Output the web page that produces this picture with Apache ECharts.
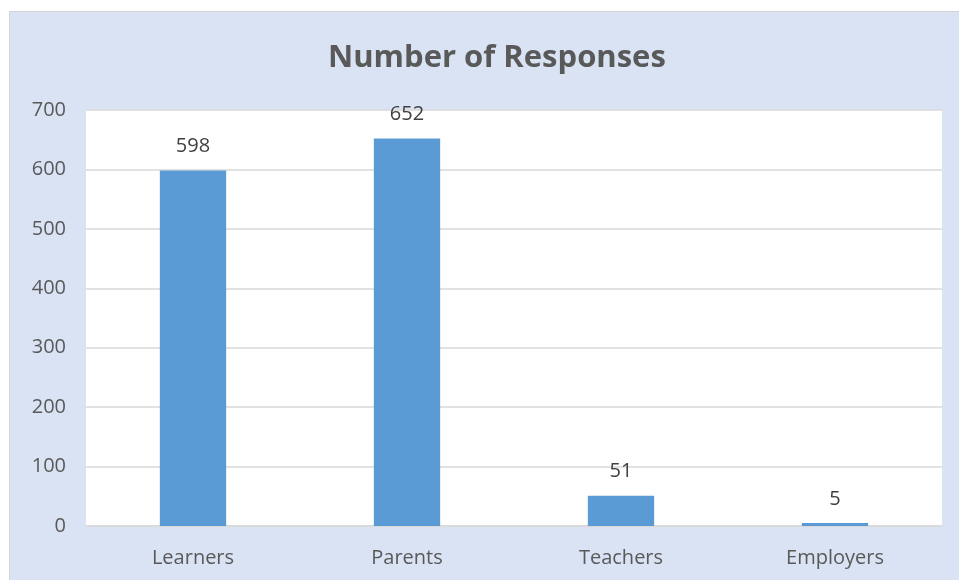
<!DOCTYPE html>
<html>
<head>
<meta charset="utf-8">
<script src="https://cdn.jsdelivr.net/npm/echarts@6/dist/echarts.min.js"></script>
<style>
html,body{margin:0;padding:0;background:#fff;}
#chart{width:959px;height:580px;}
</style>
</head>
<body>
<div id="chart"></div>
<script>
const categories = ['Learners', 'Parents', 'Teachers', 'Employers'];
const responses = [598, 652, 51, 5];
const yTicks = [0, 100, 200, 300, 400, 500, 600, 700];

const chart = echarts.init(document.getElementById('chart'), null, {renderer: 'canvas'});
const FONT = '"Open Sans", sans-serif';
chart.setOption({
  backgroundColor: '#ffffff',
  animation: false,
  graphic: [{
    type: 'rect',
    z: -10,
    silent: true,
    shape: {x: 9.5, y: 11.5, width: 960, height: 580},
    style: {fill: '#dae3f3', stroke: '#d4d4d4', lineWidth: 1}
  }],
  title: {
    text: 'Number of Responses',
    left: 323,
    top: 38,
    textStyle: {fontFamily: FONT, fontSize: 31, fontWeight: 'bold', color: '#595959'}
  },
  grid: {
    left: 86, right: 17, top: 110, bottom: 54,
    show: true, backgroundColor: '#ffffff', borderWidth: 0,
    containLabel: false
  },
  xAxis: {
    type: 'category',
    data: categories,
    axisLine: {show: true, lineStyle: {color: '#d9d9d9', width: 1.5}},
    axisTick: {show: false},
    axisLabel: {fontFamily: FONT, fontSize: 20, color: '#595959', margin: 22}
  },
  yAxis: {
    type: 'value',
    min: yTicks[0],
    max: yTicks[yTicks.length - 1],
    interval: 100,
    axisLine: {show: false},
    axisTick: {show: false},
    splitLine: {lineStyle: {color: '#d9d9d9', width: 1.5}},
    axisLabel: {fontFamily: FONT, fontSize: 20, color: '#595959', margin: 20}
  },
  series: [{
    type: 'bar',
    data: responses,
    barWidth: '31%',
    itemStyle: {color: '#5b9bd5'},
    label: {
      show: true, position: 'top', distance: 14,
      fontFamily: FONT, fontSize: 20, color: '#404040'
    }
  }]
});
</script>
</body>
</html>
